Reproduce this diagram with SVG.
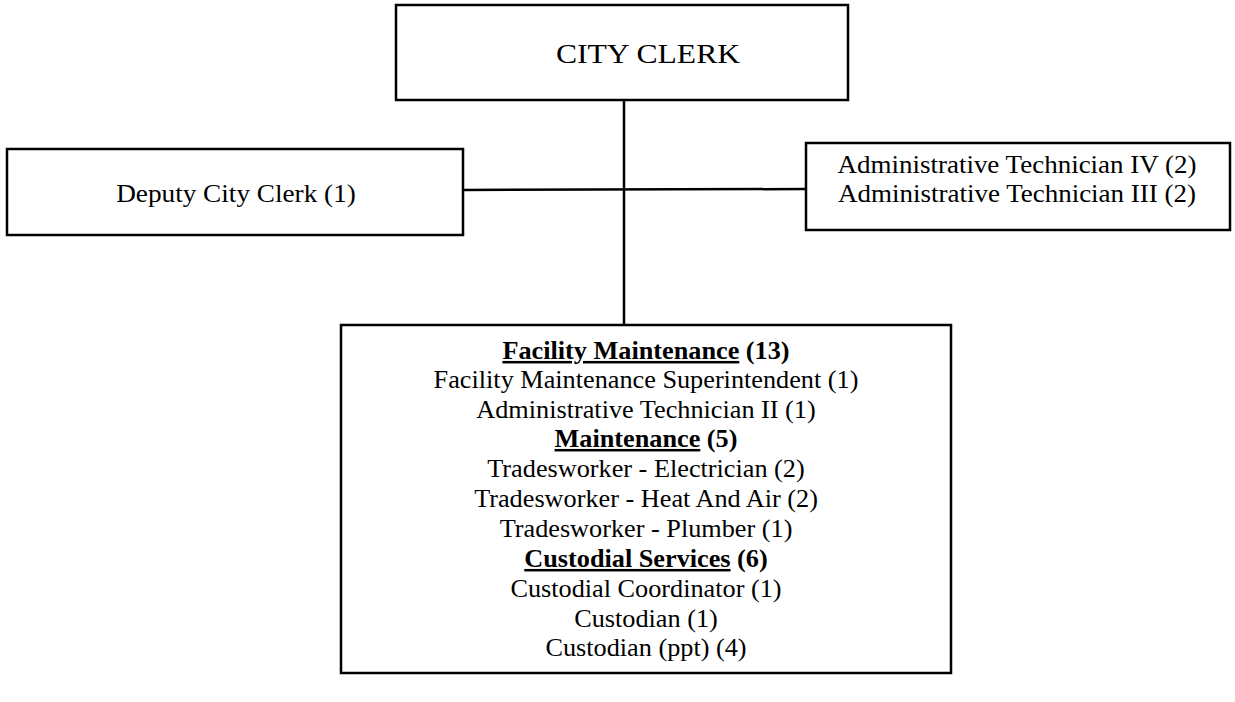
<svg xmlns="http://www.w3.org/2000/svg" width="1235" height="702" viewBox="0 0 1235 702">
<style>
.box{fill:#fff;stroke:#000;stroke-width:2.5}
.ln{fill:none;stroke:#000;stroke-width:2.5}
text{font-family:"Liberation Serif","Times New Roman",serif;fill:#000;text-anchor:middle}
.t{font-size:25px}
.b{font-weight:bold}
.big{font-size:28px}
</style>
<rect width="1235" height="702" fill="#fff"/>
<g id="connectors">
<line class="ln" x1="624" y1="100" x2="624" y2="325"/>
<line class="ln" x1="463" y1="190" x2="806" y2="189"/>
</g>
<g id="city-clerk">
<rect class="box" x="396" y="5" width="452" height="95"/>
<text class="big" transform="translate(648,63) scale(1.13,1)">CITY CLERK</text>
</g>
<g id="deputy">
<rect class="box" x="7" y="149" width="456" height="86"/>
<text class="t" transform="translate(236,202) scale(1.09,1)">Deputy City Clerk (1)</text>
</g>
<g id="admin-tech">
<rect class="box" x="806" y="143" width="424" height="87"/>
<text class="t" transform="translate(1017,173) scale(1.08,1)">Administrative Technician IV (2)</text>
<text class="t" transform="translate(1017,202) scale(1.08,1)">Administrative Technician III (2)</text>
</g>
<g id="facility-maintenance">
<rect class="box" x="341" y="325" width="610" height="348"/>
<text class="t b" transform="translate(646,359) scale(1.05,1)"><tspan text-decoration="underline">Facility Maintenance</tspan> (13)</text>
<text class="t" transform="translate(646,388) scale(1.05,1)">Facility Maintenance Superintendent (1)</text>
<text class="t" transform="translate(646,418) scale(1.05,1)">Administrative Technician II (1)</text>
<text class="t b" transform="translate(646,447) scale(1.05,1)"><tspan text-decoration="underline">Maintenance</tspan> (5)</text>
<text class="t" transform="translate(646,477) scale(1.05,1)">Tradesworker - Electrician (2)</text>
<text class="t" transform="translate(646,507) scale(1.05,1)">Tradesworker - Heat And Air (2)</text>
<text class="t" transform="translate(646,537) scale(1.05,1)">Tradesworker - Plumber (1)</text>
<text class="t b" transform="translate(646,567) scale(1.05,1)"><tspan text-decoration="underline">Custodial Services</tspan> (6)</text>
<text class="t" transform="translate(646,597) scale(1.05,1)">Custodial Coordinator (1)</text>
<text class="t" transform="translate(646,627) scale(1.05,1)">Custodian (1)</text>
<text class="t" transform="translate(646,656) scale(1.05,1)">Custodian (ppt) (4)</text>
</g>
</svg>
